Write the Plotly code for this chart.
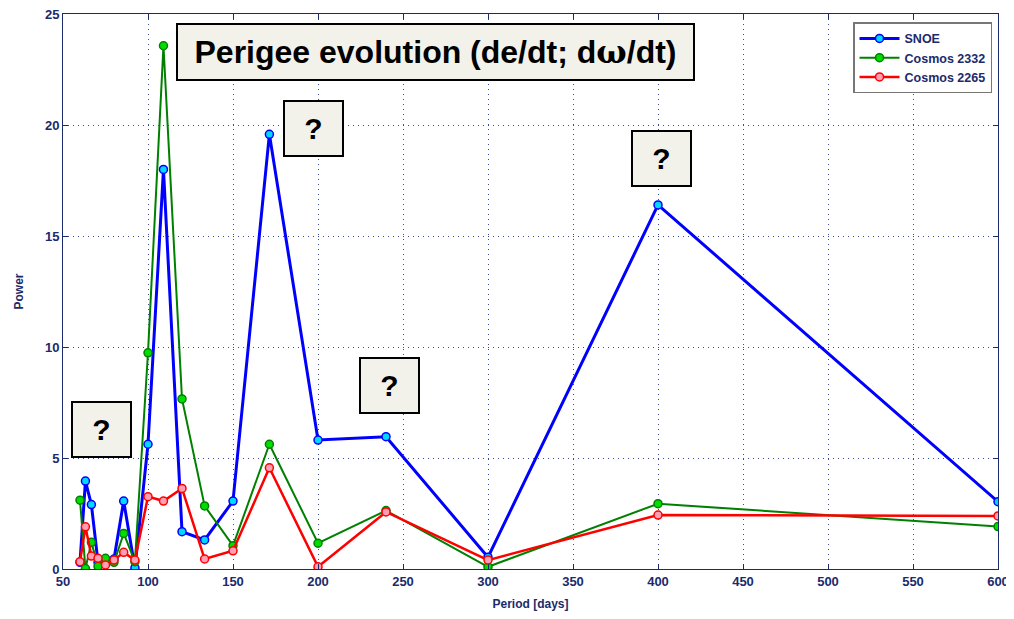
import plotly.graph_objects as go

# Periods (days)
period = [60, 63.2, 66.7, 70.6, 75, 80, 85.7, 92.3, 100, 109.1, 120, 133.3, 150, 171.4, 200, 240, 300, 400, 600]

snoe = [0.3, 3.96, 2.9, 0.3, 0.35, 0.45, 3.06, 0.05, 5.62, 18.0, 1.68, 1.31, 3.06, 19.58, 5.81, 5.96, 0.53, 16.4, 3.03]
cosmos2332 = [3.1, 0.02, 1.2, 0.12, 0.48, 0.3, 1.6, 0.33, 9.74, 23.57, 7.66, 2.84, 1.05, 5.62, 1.16, 2.63, 0.1, 2.94, 1.91]
cosmos2265 = [0.33, 1.9, 0.58, 0.48, 0.18, 0.4, 0.75, 0.4, 3.26, 3.06, 3.63, 0.45, 0.82, 4.56, 0.1, 2.57, 0.4, 2.43, 2.39]

names = ["SNOE", "Cosmos 2332", "Cosmos 2265"]
x_ticks = [50, 100, 150, 200, 250, 300, 350, 400, 450, 500, 550, 600]
y_ticks = [0, 5, 10, 15, 20, 25]

title_text = "Perigee evolution (de/dt; d<span style=\"font-family:'DejaVu Serif', 'Liberation Serif', serif\">ω</span>/dt)"
question_x = [72.9, 197.6, 242.1, 402.1]
question_y = [6.28, 19.86, 8.27, 18.49]

NAVY = "#1b2a6b"
FONT = "Arial, 'Liberation Sans', sans-serif"

fig = go.Figure()
styles = [
    dict(color="#0000ff", width=3, fill="#00d8ff"),
    dict(color="#008000", width=2, fill="#00dd00"),
    dict(color="#ff0000", width=2.5, fill="#ff9fb4"),
]
for name, ys, st in zip(names, [snoe, cosmos2332, cosmos2265], styles):
    fig.add_trace(go.Scatter(
        x=period, y=ys, name=name, mode="lines+markers",
        line=dict(color=st["color"], width=st["width"]),
        marker=dict(size=8, color=st["fill"], line=dict(color=st["color"], width=1.5)),
    ))

box_fill = "#f3f2ea"
fig.add_annotation(
    x=269.4, y=23.29, xref="x", yref="y", text="<b>" + title_text + "</b>",
    showarrow=False, font=dict(family=FONT, size=32, color="black"),
    bgcolor=box_fill, bordercolor="black", borderwidth=2, borderpad=0,
    width=515, height=54, align="center", valign="middle",
)
for qx, qy in zip(question_x, question_y):
    fig.add_annotation(
        x=qx, y=qy, xref="x", yref="y", text="<b>?</b>",
        showarrow=False, font=dict(family=FONT, size=30, color="black"),
        bgcolor=box_fill, bordercolor="black", borderwidth=2, borderpad=0,
        width=57, height=53, align="center", valign="middle",
    )

axis_common = dict(
    showline=True, linecolor=NAVY, linewidth=1, mirror="ticks",
    ticks="inside", ticklen=5, tickcolor=NAVY,
    showgrid=True, gridcolor="#3a4a90", gridwidth=1, griddash="1px,4px",
    zeroline=False, automargin=False, ticklabeloverflow="allow",
    tickfont=dict(family=FONT, size=13, color=NAVY, weight="bold"),
)

fig.update_layout(
    width=1006, height=611,
    margin=dict(l=55, r=16, t=6, b=50),
    paper_bgcolor="white", plot_bgcolor="white",
    font=dict(family=FONT, color=NAVY),
    xaxis=dict(range=[50, 600], tickvals=x_ticks,
               title=dict(text="<b>Period [days]</b>", font=dict(family=FONT, size=12, color=NAVY), standoff=12),
               **axis_common),
    yaxis=dict(range=[0, 25], tickvals=y_ticks,
               title=dict(text="<b>Power</b>", font=dict(family=FONT, size=12, color=NAVY), standoff=18),
               **axis_common),
    legend=dict(
        x=0.9936, y=0.985, xanchor="right", yanchor="top",
        bgcolor="white", bordercolor="#777777", borderwidth=1.5,
        font=dict(family=FONT, size=12.5, color=NAVY, weight="bold"),
        tracegroupgap=0, itemwidth=40,
    ),
    showlegend=True,
)

fig.write_html("out.html")
